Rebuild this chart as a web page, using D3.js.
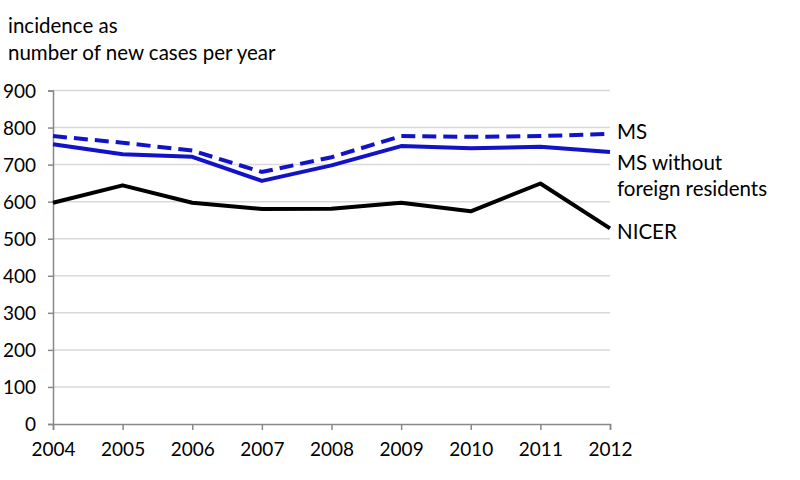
<!DOCTYPE html>
<html><head><meta charset="utf-8">
<script src="https://cdn.jsdelivr.net/npm/d3@7"></script>
<style>body{margin:0;background:#fff}svg{display:block}text{font-family:Lato,"Open Sans",sans-serif;fill:#000}</style>
</head><body><svg id="c" width="800" height="480"></svg>
<script>
const years = [2004,2005,2006,2007,2008,2009,2010,2011,2012];
const ms = [777,759,738,680,720,777,775,777,783];
const msNoForeign = [755,728,721,656,698,750,744,748,734];
const nicer = [597,644,597,580,581,597,574,649,528];
const yTicks = [0,100,200,300,400,500,600,700,800,900];
const titleLines = ["incidence as","number of new cases per year"];

const svg = d3.select("#c");
const x = d3.scaleLinear().domain([2004,2012]).range([53,610]);
const y = d3.scaleLinear().domain([0,900]).range([424,90.5]);

// gridlines
svg.append("g").selectAll("line").data(yTicks.filter(d=>d>0)).join("line")
  .attr("x1",53).attr("x2",610).attr("y1",d=>y(d)).attr("y2",d=>y(d))
  .attr("stroke","#d9d9d9").attr("stroke-width",1.5);

const ya = svg.append("g").attr("transform","translate(53,0)")
  .call(d3.axisLeft(y).tickValues(yTicks).tickSize(5).tickPadding(12).tickFormat(d3.format("d")));
const xa = svg.append("g").attr("transform","translate(0,424)")
  .call(d3.axisBottom(x).tickValues(years).tickSize(6).tickPadding(13).tickFormat(d3.format("d")));
[ya,xa].forEach(a=>{
  a.select(".domain").attr("stroke","#888").attr("stroke-width",1.5);
  a.selectAll(".tick line").attr("stroke","#888").attr("stroke-width",1.5);
  a.selectAll("text").style("font-size","19px").attr("fill","#000");
});
ya.selectAll("text").attr("dy","0.35em");

const line = d3.line().x((d,i)=>x(years[i])).y(d=>y(d));
svg.append("path").datum(nicer).attr("d",line).attr("fill","none")
  .attr("stroke","#000").attr("stroke-width",4).attr("stroke-linejoin","round");
svg.append("path").datum(msNoForeign).attr("d",line).attr("fill","none")
  .attr("stroke","#1212c8").attr("stroke-width",4).attr("stroke-linejoin","round");
svg.append("path").datum(ms).attr("d",line).attr("fill","none")
  .attr("stroke","#1212c8").attr("stroke-width",4).attr("stroke-dasharray","14,7");

// title
svg.append("g").selectAll("text").data(titleLines).join("text")
  .attr("x",8).attr("y",(d,i)=>33+i*27).style("font-size","20.5px").text(d=>d);

// series labels
const labels = [["MS",139],["MS without",170],["foreign residents",196],["NICER",239]];
svg.append("g").selectAll("text").data(labels).join("text")
  .attr("x",617).attr("y",d=>d[1]).style("font-size","20.5px").text(d=>d[0]);
</script></body></html>
